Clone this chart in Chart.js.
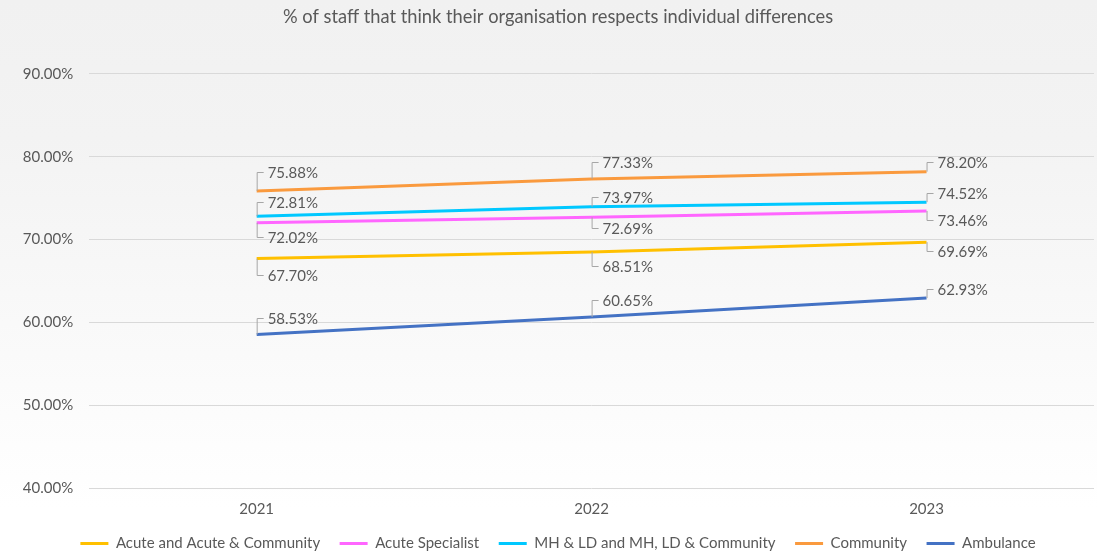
<!DOCTYPE html>
<html lang="en">

<head>
    <meta charset="UTF-8">
    <title>Respects individual differences</title>
    <style>
        html, body { margin: 0; padding: 0; overflow: hidden; }
        body { background: linear-gradient(to bottom, #f1f1f1 0%, #f3f3f3 25%, #ffffff 92%); }
        .wrap { width: 1097px; height: 552px; position: relative; }
    </style>
</head>

<body>
    <div class="wrap">
        <canvas id="lineChart"></canvas>
    </div>
    <script src="https://cdn.jsdelivr.net/npm/chart.js@4.4.1/dist/chart.umd.min.js"></script>
    <script>
        // data
        const years = ["2021", "2022", "2023"];
        const acuteCommunity = [67.70, 68.51, 69.69];
        const acuteSpecialist = [72.02, 72.69, 73.46];
        const mhLdCommunity = [72.81, 73.97, 74.52];
        const community = [75.88, 77.33, 78.20];
        const ambulance = [58.53, 60.65, 62.93];

        const seriesNames = ["Acute and Acute & Community", "Acute Specialist", "MH & LD and MH, LD & Community", "Community", "Ambulance"];
        const seriesColors = ["#FFC000", "#FF66FF", "#00C8FF", "#FA9A3E", "#4472C4"];

        // label nudge (px) from each point, like the hand placed excel labels
        const labelNudge = [
            [17.7, 15, 10],
            [15.3, 12.3, 10],
            [-12.7, -8.5, -8],
            [-18, -16, -8.7],
            [-15, -16, -7.8]
        ];

        const textColor = "#595959";
        const fontName = "Lato, 'Open Sans', sans-serif";

        // callout labels with a small bracket leader line
        const calloutLabels = {
            id: "calloutLabels",
            afterDatasetsDraw(chart) {
                const ctx = chart.ctx;
                ctx.save();
                ctx.font = "15px " + fontName;
                ctx.textBaseline = "middle";
                ctx.textAlign = "left";
                chart.data.datasets.forEach(function (ds, i) {
                    const meta = chart.getDatasetMeta(i);
                    meta.data.forEach(function (pt, j) {
                        const ty = pt.y + labelNudge[i][j];
                        const by = Math.round(ty - 1.3) + 0.5;
                        ctx.strokeStyle = "#a6a6a6";
                        ctx.lineWidth = 1;
                        ctx.beginPath();
                        ctx.moveTo(pt.x + 0.5, pt.y);
                        ctx.lineTo(pt.x + 0.5, by);
                        ctx.lineTo(pt.x + 7, by);
                        ctx.stroke();
                        ctx.fillStyle = textColor;
                        ctx.fillText(ds.data[j].toFixed(2) + "%", pt.x + 11, ty);
                    });
                });
                ctx.restore();
            }
        };

        const allSeries = [acuteCommunity, acuteSpecialist, mhLdCommunity, community, ambulance];
        const datasets = allSeries.map(function (vals, i) {
            return {
                label: seriesNames[i],
                data: vals,
                borderColor: seriesColors[i],
                backgroundColor: seriesColors[i],
                borderWidth: 3,
                pointRadius: 0,
                tension: 0
            };
        });

        new Chart(document.getElementById("lineChart"), {
            type: "line",
            data: { labels: years, datasets: datasets },
            plugins: [calloutLabels],
            options: {
                responsive: true,
                maintainAspectRatio: false,
                animation: false,
                layout: { padding: { left: 22, right: 3, top: 0, bottom: -9 } },
                plugins: {
                    title: {
                        display: true,
                        text: "% of staff that think their organisation respects individual differences",
                        color: textColor,
                        font: { family: fontName, size: 18.3, weight: "normal" },
                        padding: { top: 6, bottom: 46 }
                    },
                    legend: {
                        position: "bottom",
                        labels: {
                            color: textColor,
                            font: { family: fontName, size: 15 },
                            boxWidth: 28,
                            boxHeight: 3,
                            padding: 19.5,
                            generateLabels: function (chart) {
                                const items = Chart.defaults.plugins.legend.labels.generateLabels(chart);
                                items.forEach(function (it) { it.lineWidth = 0; });
                                return items;
                            }
                        }
                    },
                    tooltip: { enabled: false }
                },
                scales: {
                    x: {
                        offset: true,
                        grid: { display: false, drawTicks: false },
                        border: { display: false },
                        ticks: { color: textColor, font: { family: fontName, size: 15 }, padding: 12 },
                        afterFit: function (s) { s.height = 28.5; }
                    },
                    y: {
                        min: 40,
                        max: 90,
                        grid: { color: "#d9d9d9", drawTicks: false },
                        border: { display: false },
                        ticks: {
                            stepSize: 10,
                            color: textColor,
                            font: { family: fontName, size: 15 },
                            padding: 16,
                            callback: function (v) { return v.toFixed(2) + "%"; }
                        },
                        afterFit: function (s) { s.width = 67.2; }
                    }
                }
            }
        });
    </script>
</body>

</html>
